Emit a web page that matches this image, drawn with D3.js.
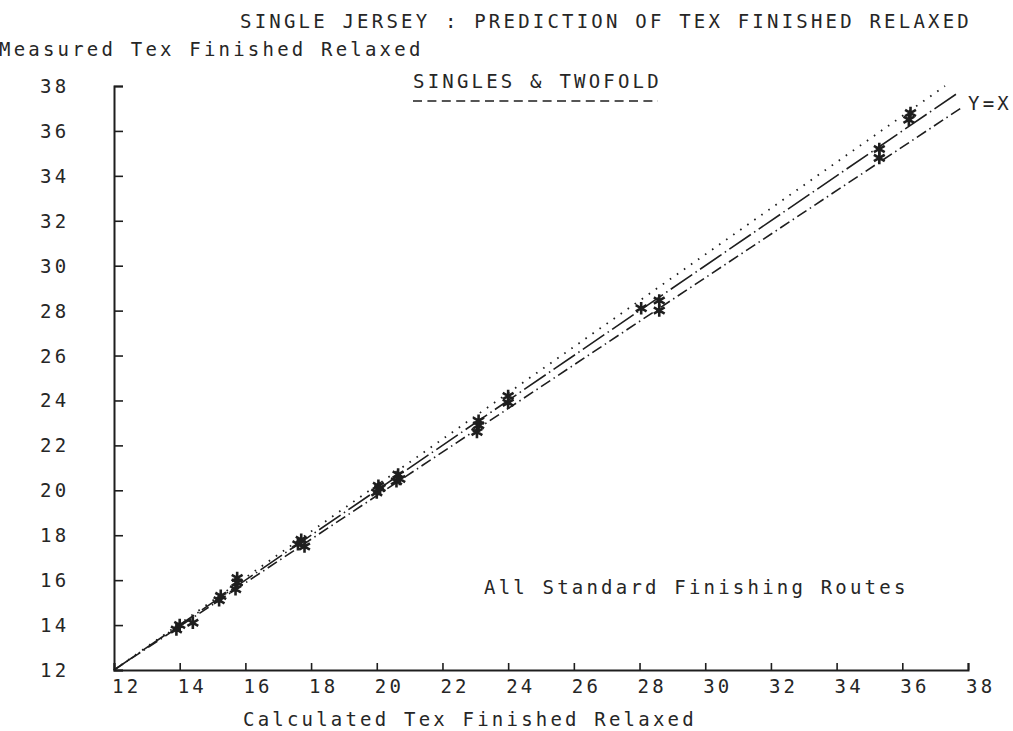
<!DOCTYPE html>
<html>
<head>
<meta charset="utf-8">
<script src="https://cdn.jsdelivr.net/npm/d3@7"></script>
<style>
  html, body { margin: 0; padding: 0; background: #fff; }
  svg { display: block; }
  text { font-family: "DejaVu Sans Mono", monospace; font-size: 19px; fill: #262626; letter-spacing: 3.2px; }
</style>
</head>
<body>
<svg id="chart" width="1013" height="731"></svg>
<script>
// Calculated vs measured tex (finished relaxed) for single jersey fabrics
const calculatedTex = [13.9, 14.0, 14.4, 15.2, 15.25, 15.7, 15.75, 15.75, 17.6, 17.7, 17.8,
  20.0, 20.05, 20.1, 20.6, 20.65, 20.7, 23.05, 23.1, 23.1, 24.0, 24.0,
  28.05, 28.6, 28.6, 35.3, 35.3, 36.2, 36.25];
const measuredTex = [13.8, 14.0, 14.1, 15.1, 15.3, 15.6, 15.9, 16.1, 17.6, 17.8, 17.5,
  19.9, 20.2, 20.1, 20.4, 20.7, 20.5, 22.6, 22.9, 23.1, 23.9, 24.2,
  28.1, 28.0, 28.45, 34.8, 35.2, 36.5, 36.8];

// Reference line Y = X and the upper / lower bounds
const equalityX = [12, 37.7];
const equalityY = [12, 37.7];
const upperX = [12, 37.3];
const upperY = [12, 38.0];
const lowerX = [12, 37.8];
const lowerY = [12, 37.03];

const xTicks = [12, 14, 16, 18, 20, 22, 24, 26, 28, 30, 32, 34, 36, 38];
const yTicks = [12, 14, 16, 18, 20, 22, 24, 26, 28, 30, 32, 34, 36, 38];

const svg = d3.select("#chart");
const ink = "#1e1e1e";

const x = d3.scaleLinear().domain([12, 38]).range([114, 968]);
const y = d3.scaleLinear().domain([12, 38]).range([670, 86]);

// Titles
svg.append("text").attr("x", 240).attr("y", 28)
  .text("SINGLE JERSEY : PREDICTION OF TEX FINISHED RELAXED");
svg.append("text").attr("x", -1).attr("y", 56)
  .text("Measured Tex Finished Relaxed");
svg.append("text").attr("x", 413).attr("y", 88)
  .text("SINGLES & TWOFOLD");
svg.append("line").attr("x1", 413).attr("x2", 658).attr("y1", 101).attr("y2", 101)
  .attr("stroke", ink).attr("stroke-width", 1.4).attr("stroke-dasharray", "9,5.4");
svg.append("text").attr("x", 484).attr("y", 594)
  .text("All Standard Finishing Routes");
svg.append("text").attr("x", 243).attr("y", 726)
  .text("Calculated Tex Finished Relaxed");
svg.append("text").attr("x", 968).attr("y", 110)
  .text("Y=X");

// Axes with inward ticks
const xAxis = d3.axisBottom(x).tickValues(xTicks).tickSize(-7).tickFormat("");
const yAxis = d3.axisLeft(y).tickValues(yTicks).tickSize(-9).tickFormat("");
const gx = svg.append("g").attr("transform", "translate(0,670)").call(xAxis);
const gy = svg.append("g").attr("transform", "translate(114,0)").call(yAxis);
[gx, gy].forEach(g => {
  g.select(".domain").attr("stroke", ink).attr("stroke-width", 2);
  g.selectAll(".tick line").attr("stroke", ink).attr("stroke-width", 1.6);
});

svg.append("g").selectAll("text").data(xTicks).join("text")
  .attr("x", d => x(d) - 2).attr("y", 693).text(d => d);
svg.append("g").selectAll("text").data(yTicks).join("text")
  .attr("x", 40).attr("y", d => y(d) + 7).text(d => d);

// Lines
const line = d3.line().x(d => x(d[0])).y(d => y(d[1]));
function drawLine(xs, ys, dash, w) {
  svg.append("path").datum(xs.map((v, i) => [v, ys[i]]))
    .attr("d", line).attr("fill", "none").attr("stroke", ink)
    .attr("stroke-width", w).attr("stroke-dasharray", dash);
}
drawLine(upperX, upperY, "1.6,7", 1.8);
drawLine(equalityX, equalityY, "26,4,1.5,4", 1.6);
drawLine(lowerX, lowerY, "11,4,1.5,4", 1.6);

// Data points as asterisks
const star = d3.symbol().type(d3.symbolAsterisk || d3.symbolCross).size(110);
svg.append("g").selectAll("path")
  .data(calculatedTex.map((c, i) => [c, measuredTex[i]]))
  .join("path")
  .attr("transform", d => `translate(${x(d[0])},${y(d[1])})`)
  .attr("d", star)
  .attr("fill", "none")
  .attr("stroke", ink)
  .attr("stroke-width", 2.6);
</script>
</body>
</html>
